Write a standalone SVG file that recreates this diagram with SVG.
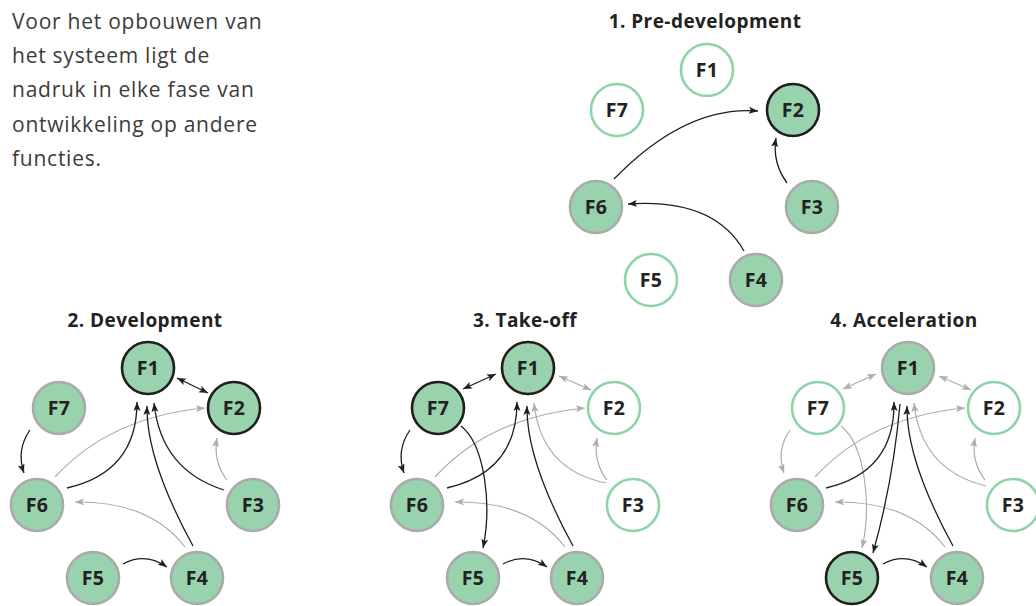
<svg xmlns="http://www.w3.org/2000/svg" width="1036" height="606" viewBox="0 0 1036 606">
  <style>
    .intro { font-family: "Open Sans", "Liberation Sans", sans-serif; font-size: 21px; letter-spacing: 0.75px; fill: #3c3c3c; }
    .title { font-family: "Open Sans", "Liberation Sans", sans-serif; font-size: 19px; letter-spacing: 0.45px; font-weight: bold; fill: #222; text-anchor: middle; }
    .lbl { font-family: "Open Sans", "Liberation Sans", sans-serif; font-size: 19.5px; letter-spacing: 0.4px; font-weight: bold; fill: #222; text-anchor: middle; }
    circle { stroke-width: 2.6; }
    .off { fill: #ffffff; stroke: #8fd3a9; }
    .on { fill: #99d3ae; stroke: #aaaaaa; }
    .key { fill: #99d3ae; stroke: #1e1e1e; }
    .blk { fill: none; stroke: #1e1e1e; stroke-width: 1.3; marker-end: url(#hb); }
    .gry { fill: none; stroke: #adadad; stroke-width: 1.2; marker-end: url(#hg); }
    .blk.two { marker-start: url(#hb); }
    .gry.two { marker-start: url(#hg); }
  </style>
  <defs>
    <marker id="hb" markerUnits="userSpaceOnUse" markerWidth="10" markerHeight="8" refX="9" refY="3.5" orient="auto-start-reverse">
      <path d="M0,0 L9,3.5 L0,7 L2,3.5 z" fill="#1e1e1e"/>
    </marker>
    <marker id="hg" markerUnits="userSpaceOnUse" markerWidth="10" markerHeight="8" refX="9" refY="3.5" orient="auto-start-reverse">
      <path d="M0,0 L9,3.5 L0,7 L2,3.5 z" fill="#adadad"/>
    </marker>
  </defs>

  <!-- introduction -->
  <g id="intro">
    <text class="intro" x="12" y="29">Voor het opbouwen van</text>
    <text class="intro" x="12" y="63">het systeem ligt de</text>
    <text class="intro" x="12" y="97">nadruk in elke fase van</text>
    <text class="intro" x="12" y="132">ontwikkeling op andere</text>
    <text class="intro" x="12" y="166">functies.</text>
  </g>

  <!-- phase 1 -->
  <g id="phase1">
    <text class="title" x="705" y="28">1. Pre-development</text>
    <g id="p1-connectors">
      <path class="blk" d="M614,179 Q686,105 758,111"/>
      <path class="blk" d="M787,183 Q772,162 776,138"/>
      <path class="blk" d="M744,251 Q714,198 628,204"/>
    </g>
    <g id="p1-f1"><circle class="off" cx="707" cy="70" r="26"/><text class="lbl" x="707" y="77">F1</text></g>
    <g id="p1-f2"><circle class="key" cx="793" cy="110" r="26"/><text class="lbl" x="793" y="117">F2</text></g>
    <g id="p1-f3"><circle class="on" cx="812" cy="207" r="26"/><text class="lbl" x="812" y="214">F3</text></g>
    <g id="p1-f4"><circle class="on" cx="756" cy="280" r="26"/><text class="lbl" x="756" y="287">F4</text></g>
    <g id="p1-f5"><circle class="off" cx="651" cy="280" r="26"/><text class="lbl" x="651" y="287">F5</text></g>
    <g id="p1-f6"><circle class="on" cx="596" cy="207" r="26"/><text class="lbl" x="596" y="214">F6</text></g>
    <g id="p1-f7"><circle class="off" cx="617" cy="110" r="26"/><text class="lbl" x="617" y="117">F7</text></g>
  </g>

  <!-- phase 2 -->
  <g id="phase2">
    <text class="title" x="145" y="327">2. Development</text>
    <g id="p2-connectors">
      <path class="gry" d="M55,477 Q110,417 205,408"/>
      <path class="gry" d="M227,480 Q213,462 217,438"/>
      <path class="gry" d="M185,547 Q150,501 75,502"/>
      <path class="blk two" d="M177,378 L208,393"/>
      <path class="blk" d="M30,430 Q16,450 24,473"/>
      <path class="blk" d="M67,488 Q137,472 137,402"/>
      <path class="blk" d="M193,546 Q146,460 147,406"/>
      <path class="blk" d="M224,490 Q161,470 154,403"/>
      <path class="blk" d="M123,564 Q145,552 167,567"/>
    </g>
    <g id="p2-f1"><circle class="key" cx="148" cy="368" r="26"/><text class="lbl" x="148" y="375">F1</text></g>
    <g id="p2-f2"><circle class="key" cx="234" cy="408" r="26"/><text class="lbl" x="234" y="415">F2</text></g>
    <g id="p2-f3"><circle class="on" cx="253" cy="505" r="26"/><text class="lbl" x="253" y="512">F3</text></g>
    <g id="p2-f4"><circle class="on" cx="197" cy="578" r="26"/><text class="lbl" x="197" y="585">F4</text></g>
    <g id="p2-f5"><circle class="on" cx="93" cy="578" r="26"/><text class="lbl" x="93" y="585">F5</text></g>
    <g id="p2-f6"><circle class="on" cx="37" cy="505" r="26"/><text class="lbl" x="37" y="512">F6</text></g>
    <g id="p2-f7"><circle class="on" cx="59" cy="408" r="26"/><text class="lbl" x="59" y="415">F7</text></g>
  </g>

  <!-- phase 3 -->
  <g id="phase3">
    <text class="title" x="525" y="327">3. Take-off</text>
    <g id="p3-connectors">
      <path class="gry two" d="M559,376 L591,390"/>
      <path class="gry" d="M435,477 Q490,417 585,408"/>
      <path class="gry" d="M607,480 Q593,462 597,438"/>
      <path class="gry" d="M606,483 Q541,470 534,403"/>
      <path class="gry" d="M565,547 Q530,501 455,502"/>
      <path class="blk two" d="M463,389 L496,374"/>
      <path class="blk" d="M410,430 Q396,450 404,473"/>
      <path class="blk" d="M461,426 C485,445 492,505 483,548"/>
      <path class="blk" d="M447,488 Q517,472 517,402"/>
      <path class="blk" d="M573,546 Q526,460 527,406"/>
      <path class="blk" d="M503,564 Q525,552 547,567"/>
    </g>
    <g id="p3-f1"><circle class="key" cx="528" cy="368" r="26"/><text class="lbl" x="528" y="375">F1</text></g>
    <g id="p3-f2"><circle class="off" cx="614" cy="408" r="26"/><text class="lbl" x="614" y="415">F2</text></g>
    <g id="p3-f3"><circle class="off" cx="633" cy="505" r="26"/><text class="lbl" x="633" y="512">F3</text></g>
    <g id="p3-f4"><circle class="on" cx="577" cy="578" r="26"/><text class="lbl" x="577" y="585">F4</text></g>
    <g id="p3-f5"><circle class="on" cx="473" cy="578" r="26"/><text class="lbl" x="473" y="585">F5</text></g>
    <g id="p3-f6"><circle class="on" cx="417" cy="505" r="26"/><text class="lbl" x="417" y="512">F6</text></g>
    <g id="p3-f7"><circle class="key" cx="438" cy="408" r="26"/><text class="lbl" x="438" y="415">F7</text></g>
  </g>

  <!-- phase 4 -->
  <g id="phase4">
    <text class="title" x="904" y="327">4. Acceleration</text>
    <g id="p4-connectors">
      <path class="gry two" d="M843,389 L876,374"/>
      <path class="gry two" d="M939,376 L971,390"/>
      <path class="gry" d="M790,430 Q776,450 784,473"/>
      <path class="gry" d="M841,426 C865,445 872,505 862,548"/>
      <path class="gry" d="M815,477 Q870,417 965,408"/>
      <path class="gry" d="M985,480 Q971,462 975,438"/>
      <path class="gry" d="M986,486 Q921,470 914,403"/>
      <path class="gry" d="M945,547 Q910,501 835,502"/>
      <path class="blk" d="M826,488 Q895,472 894,402"/>
      <path class="blk" d="M900,404 Q893,482 873,553"/>
      <path class="blk" d="M953,546 Q906,460 907,406"/>
      <path class="blk" d="M883,564 Q905,552 927,567"/>
    </g>
    <g id="p4-f1"><circle class="on" cx="908" cy="368" r="26"/><text class="lbl" x="908" y="375">F1</text></g>
    <g id="p4-f2"><circle class="off" cx="994" cy="408" r="26"/><text class="lbl" x="994" y="415">F2</text></g>
    <g id="p4-f3"><circle class="off" cx="1013" cy="505" r="26"/><text class="lbl" x="1013" y="512">F3</text></g>
    <g id="p4-f4"><circle class="on" cx="957" cy="578" r="26"/><text class="lbl" x="957" y="585">F4</text></g>
    <g id="p4-f5"><circle class="key" cx="852" cy="578" r="26"/><text class="lbl" x="852" y="585">F5</text></g>
    <g id="p4-f6"><circle class="on" cx="797" cy="505" r="26"/><text class="lbl" x="797" y="512">F6</text></g>
    <g id="p4-f7"><circle class="off" cx="818" cy="408" r="26"/><text class="lbl" x="818" y="415">F7</text></g>
  </g>
</svg>
